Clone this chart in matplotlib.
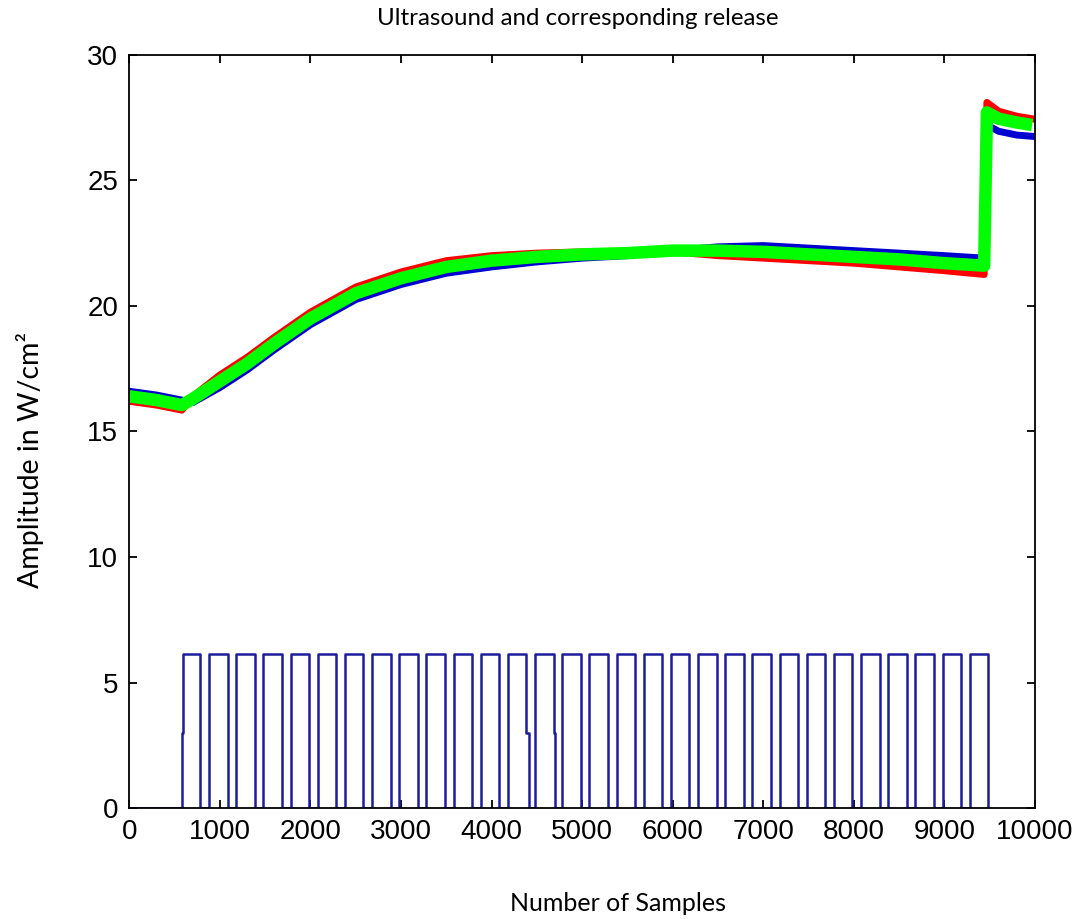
import matplotlib
matplotlib.use("Agg")
import matplotlib.pyplot as plt
from matplotlib import font_manager

sample_x = [0, 300, 580, 700, 1000, 1300, 1600, 2000, 2500, 3000, 3500, 4000,
            4500, 5000, 5500, 6000, 6500, 7000, 7500, 8000, 8500, 9000, 9440,
            9470, 9600, 9800, 9970]
green_y = [16.4, 16.25, 16.05, 16.3, 17.0, 17.7, 18.5, 19.5, 20.5, 21.1, 21.55,
           21.8, 21.95, 22.05, 22.1, 22.2, 22.2, 22.15, 22.05, 21.95, 21.85,
           21.7, 21.6, 27.7, 27.45, 27.3, 27.2]
red_y = [16.2, 16.05, 15.85, 16.4, 17.25, 17.95, 18.75, 19.75, 20.75, 21.35,
         21.8, 22.0, 22.1, 22.15, 22.15, 22.15, 22.0, 21.9, 21.8, 21.7, 21.55,
         21.4, 21.25, 28.1, 27.75, 27.55, 27.45]
blue_y = [16.6, 16.45, 16.25, 16.15, 16.75, 17.45, 18.25, 19.25, 20.25, 20.85,
          21.3, 21.55, 21.75, 21.9, 22.0, 22.2, 22.35, 22.4, 22.3, 22.2, 22.1,
          22.0, 21.9, 27.2, 26.95, 26.8, 26.75]

# release pulse train
pulse_rise = [580, 880, 1180, 1480, 1780, 2080, 2380, 2680, 2980, 3280, 3580,
              3880, 4180, 4480, 4780, 5080, 5380, 5680, 5980, 6280, 6580, 6880,
              7180, 7480, 7780, 8080, 8380, 8680, 8980, 9280]
pulse_fall = [785, 1085, 1385, 1685, 1985, 2285, 2585, 2885, 3185, 3485, 3785,
              4085, 4380, 4688, 4985, 5285, 5585, 5885, 6185, 6485, 6785, 7085,
              7385, 7685, 7985, 8285, 8585, 8885, 9185, 9485]
pulse_high = 6.15
# intermediate samples on a few edges: (time, level)
rise_steps = {0: (580, 3.0)}
fall_steps = {12: (4410, 3.0), 13: (4702, 3.0)}

px, py = [0], [0]
for i, (r, f) in enumerate(zip(pulse_rise, pulse_fall)):
    if i in rise_steps:
        t, lv = rise_steps[i]
        px += [r, t, t + 15, t + 15]
        py += [0, lv, lv, pulse_high]
    else:
        px += [r, r]
        py += [0, pulse_high]
    if i in fall_steps:
        t, lv = fall_steps[i]
        px += [f, f, t, t]
        py += [pulse_high, lv, lv, 0]
    else:
        px += [f, f]
        py += [pulse_high, 0]

avail = {f.name for f in font_manager.fontManager.ttflist}
tick_font = ['Liberation Sans Narrow'] if 'Liberation Sans Narrow' in avail else ['Liberation Sans']
label_font = ['Lato', 'DejaVu Sans']

fig = plt.figure(figsize=(10.78, 9.19), dpi=100)
ax = fig.add_axes([0.120, 0.1205, 0.840, 0.820])

ax.plot(sample_x, blue_y, color='#0000d0', lw=5)
ax.plot(sample_x, red_y, color='#ff0000', lw=5)
ax.plot(sample_x, green_y, color='#00ff00', lw=9, solid_capstyle='butt')
ax.plot(px, py, color='#1c1c9c', lw=1.8)

ax.set_xlim(0, 10000)
ax.set_ylim(0, 30)
ax.set_xticks(range(0, 10001, 1000))
ax.set_yticks(range(0, 31, 5))
ax.tick_params(direction='in', length=6, width=1.3, top=True, right=True,
               labelsize=20, pad=8)
for lab in ax.get_xticklabels() + ax.get_yticklabels():
    lab.set_family(tick_font)
for s in ax.spines.values():
    s.set_linewidth(1.3)

fig.text(0.536, 0.980, 'Ultrasound and corresponding release', ha='center',
         va='center', fontsize=17.3, family=label_font)
fig.text(0.573, 0.017, 'Number of Samples', ha='center', va='center',
         fontsize=18, family=label_font)
fig.text(0.028, 0.500, 'Amplitude in W/cm²', ha='center', va='center',
         rotation=90, fontsize=20.5, family=label_font)

fig.savefig('out.png', dpi=100, facecolor='white')
